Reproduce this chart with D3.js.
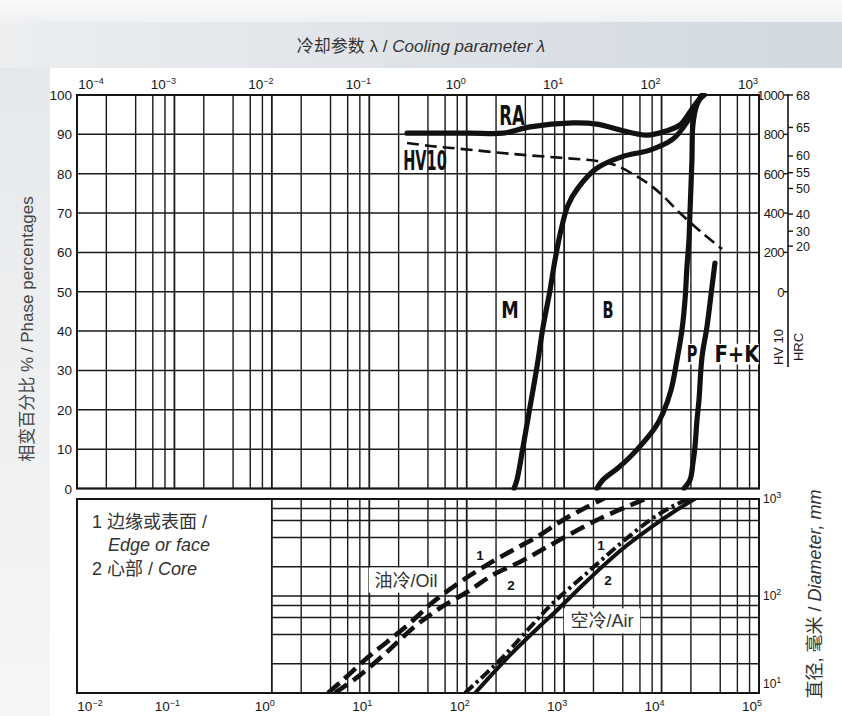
<!DOCTYPE html>
<html><head><meta charset="utf-8">
<script src="https://cdn.jsdelivr.net/npm/d3@7"></script>
<style>
html,body{margin:0;padding:0;width:842px;height:716px;overflow:hidden;background:#fff}
svg{display:block}
</style></head><body>
<svg id="c" width="842" height="716"></svg>
<script>
// ---------- DATA ----------
const topTickExps = [-4, -3, -2, -1, 0, 1, 2, 3];        // cooling parameter λ axis (top)
const botTickExps = [-2, -1, 0, 1, 2, 3, 4, 5];          // bottom axis
const gridMultiples = [1, 2, 4, 6, 8];
const pctTicks = [0, 10, 20, 30, 40, 50, 60, 70, 80, 90, 100];
const hvTicks = [0, 200, 400, 600, 800, 1000];
const hrcLabels = ["68", "65", "60", "55", "50", "40", "30", "20"];
const hrcAsHV = [1000, 835, 690, 605, 525, 395, 308, 232];
const diamTickExps = [1, 2, 3];

// top plot curves (λ, %)
const raLambda = [0.244, 1.08, 2.36, 4.46, 12.3, 21.7, 40.2, 70.8, 113.7, 154.5, 196, 236, 275];
const raPct    = [90.3, 90.3, 90.3, 91.9, 92.9, 92.6, 90.9, 89.8, 90.9, 92.4, 95.7, 98.5, 100];

const mbLambda = [3.06, 3.28, 3.78, 4.46, 5.26, 6.07, 7.16, 8.06, 9.29, 10.95, 13.9, 21.7, 40.2, 76, 131, 182, 248, 265];
const mbPct    = [0, 2.2, 10.5, 20.7, 30.9, 41.0, 50.4, 58.1, 65.7, 72.0, 76.4, 81.4, 84.4, 86.0, 88.8, 93.1, 99.2, 100];

const bpLambda = [21.7, 25.0, 35.7, 47.4, 64.5, 85.5, 103.5, 125, 144, 162, 174, 182, 191, 196, 205, 210, 231, 260];
const bpPct    = [0, 2.2, 5.2, 8.0, 11.6, 15.4, 19.2, 25.0, 32.7, 40.3, 47.9, 56.1, 63.2, 70.6, 83.6, 92.5, 97.6, 100];

const pfLambda = [170, 196, 210, 220, 231, 242, 260, 292, 329, 353];
const pfPct    = [0, 2.2, 6.5, 10.5, 17.4, 22.5, 33.4, 41.0, 51.2, 57.3];

// HV10 hardness curve (λ, HV)
const hvLambda = [0.244, 0.42, 0.916, 2.99, 9.73, 21.7, 33.2, 50.9, 76, 103.5, 154.5, 248, 417];
const hvValue  = [756, 741, 725, 700, 680, 665, 644, 598, 543, 487, 400, 309, 217];

// bottom plot curves (x, diameter mm)
const oil1X = [3.77, 5.37, 9.48, 15.2, 26.2, 45.1, 85.3, 161, 299, 565, 973, 1637, 2754];
const oil1D = [10, 13.6, 22.9, 33.6, 52.7, 86.7, 139, 209, 298, 425, 608, 807, 1049];
const oil2X = [4.45, 8.03, 15.2, 28.1, 53.2, 101, 186, 352, 667, 2173, 7603];
const oil2D = [10, 15.3, 26.5, 46.8, 75.2, 110, 165, 224, 320, 608, 1049];
const air1X = [96, 220, 479, 769, 1716, 3742, 8166, 13740, 21030];
const air1D = [10, 21.9, 51.4, 84.7, 173, 344, 637, 867, 1049];
const air2X = [122, 278, 565, 769, 1716, 3742, 8166, 13740, 23650];
const air2D = [10, 24.6, 49.1, 65.2, 143, 291, 527, 752, 1049];

// annotations
const topLabels = [
  {t: "RA",   l: 2.92,  p: 92.4},
  {t: "HV10", l: 0.373, p: 80.9},
  {t: "M",    l: 2.78,  p: 43.3},
  {t: "B",    l: 28.2,  p: 43.3},
  {t: "P",    l: 205,   p: 32.1},
  {t: "F+K",  l: 594,   p: 32.1}
];
const curveNums = [
  {t: "1", x: 137,  d: 235},
  {t: "2", x: 285,  d: 115},
  {t: "1", x: 2390, d: 298},
  {t: "2", x: 2818, d: 130}
];

// ---------- SCALES ----------
const L = 77, R = 759;
const xTop = d3.scaleLog().domain([1e-4, 1e3]).range([L, R]);
const xBot = d3.scaleLog().domain([1e-2, 1e5]).range([L, R]);
const yPct = d3.scaleLinear().domain([0, 100]).range([488.5, 95]);
const yHV  = d3.scaleLinear().domain([0, 1000]).range([yPct(50), yPct(100)]);
const yDia = d3.scaleLog().domain([10, 1000]).range([693, 499]);

const svg = d3.select("#c");
const defs = svg.append("defs");

// ---------- BACKGROUND ----------
const g1 = defs.append("linearGradient").attr("id", "band").attr("x1", 0).attr("x2", 1).attr("y1", 0).attr("y2", 0);
g1.append("stop").attr("offset", 0).attr("stop-color", "#eceef0");
g1.append("stop").attr("offset", 1).attr("stop-color", "#d1d8e0");
const g2 = defs.append("linearGradient").attr("id", "leftStrip").attr("x1", 0).attr("x2", 0).attr("y1", 0).attr("y2", 1);
g2.append("stop").attr("offset", 0).attr("stop-color", "#e6e9ec");
g2.append("stop").attr("offset", 1).attr("stop-color", "#f6f6f6");
const g3 = defs.append("linearGradient").attr("id", "topStrip").attr("x1", 0).attr("x2", 0).attr("y1", 0).attr("y2", 1);
g3.append("stop").attr("offset", 0).attr("stop-color", "#fafafa");
g3.append("stop").attr("offset", 1).attr("stop-color", "#f0f1f2");

svg.append("rect").attr("width", 842).attr("height", 716).attr("fill", "url(#band)");
svg.append("rect").attr("width", 842).attr("height", 22).attr("fill", "url(#topStrip)");
svg.append("rect").attr("x", 0).attr("y", 68).attr("width", 50).attr("height", 648).attr("fill", "url(#leftStrip)");
svg.append("rect").attr("x", 50).attr("y", 68).attr("width", 792).attr("height", 648).attr("fill", "#ffffff");

const sansFont = "'Liberation Sans', Arial, 'Noto Sans CJK SC', sans-serif";
const titleFont = "'Liberation Sans', 'Noto Sans CJK SC', sans-serif";
const ink = "#161616";

// ---------- TITLES ----------
const tt = svg.append("text").attr("x", 421).attr("y", 52).attr("text-anchor", "middle")
  .attr("font-family", titleFont).attr("font-size", 17).attr("fill", "#333");
tt.append("tspan").text("冷却参数 λ / ");
tt.append("tspan").attr("font-style", "italic").text("Cooling parameter λ");

svg.append("text").attr("transform", "translate(33,329) rotate(-90)").attr("text-anchor", "middle")
  .attr("font-family", titleFont).attr("font-size", 17).attr("fill", "#444")
  .text("相变百分比 % / Phase percentages");

const rt = svg.append("text").attr("transform", "translate(821,594) rotate(-90)").attr("text-anchor", "middle")
  .attr("font-family", titleFont).attr("font-size", 18).attr("fill", "#333");
rt.append("tspan").text("直径, 毫米 / ");
rt.append("tspan").attr("font-style", "italic").text("Diameter, mm");

// ---------- GRID helpers ----------
function gridValues(lo, hi) {
  const out = [];
  for (let e = lo; e < hi; e++) gridMultiples.forEach(m => out.push(m * Math.pow(10, e)));
  out.push(Math.pow(10, hi));
  return out;
}
const gridStroke = "#1a1a1a";
const isDecade = d => Math.abs(Math.log10(d) - Math.round(Math.log10(d))) < 1e-9;

// ---------- TOP PLOT ----------
const topG = svg.append("g");
const vTop = gridValues(-4, 3);
topG.selectAll("line.v").data(vTop).join("line")
  .attr("x1", d => xTop(d)).attr("x2", d => xTop(d))
  .attr("y1", yPct(100)).attr("y2", yPct(0))
  .attr("stroke", gridStroke).attr("stroke-width", d => isDecade(d) ? 1.8 : 1.4);
topG.selectAll("line.h").data(pctTicks).join("line")
  .attr("x1", L).attr("x2", R).attr("y1", d => yPct(d)).attr("y2", d => yPct(d))
  .attr("stroke", gridStroke).attr("stroke-width", 1.5);
topG.append("rect").attr("x", L).attr("y", yPct(100)).attr("width", R - L).attr("height", yPct(0) - yPct(100))
  .attr("fill", "none").attr("stroke", ink).attr("stroke-width", 2);

// left % labels
topG.selectAll("text.pct").data(pctTicks).join("text")
  .attr("x", 72).attr("y", d => yPct(d) + 5).attr("text-anchor", "end")
  .attr("font-family", sansFont).attr("font-size", 13.5).attr("fill", ink).text(d => d);

// top exponent labels
function expLabel(sel, e) {
  sel.append("tspan").text("10");
  sel.append("tspan").attr("dy", -5).attr("font-size", 9).text(e < 0 ? "\u2212" + (-e) : String(e));
}
topTickExps.forEach(e => {
  const x = Math.max(91, xTop(Math.pow(10, e)) - 11);
  const t = svg.append("text").attr("x", x).attr("y", 89).attr("text-anchor", "middle")
    .attr("font-family", sansFont).attr("font-size", 13.5).attr("fill", ink);
  expLabel(t, e);
});

// right hardness axes
const axX = 788;
svg.append("line").attr("x1", axX).attr("x2", axX).attr("y1", yHV(1000) - 1).attr("y2", 367)
  .attr("stroke", ink).attr("stroke-width", 1.6);
svg.selectAll("line.hvt").data(hvTicks).join("line")
  .attr("x1", axX - 4).attr("x2", axX).attr("y1", d => yHV(d)).attr("y2", d => yHV(d))
  .attr("stroke", ink).attr("stroke-width", 1.4);
svg.selectAll("text.hv").data(hvTicks).join("text")
  .attr("x", axX - 4).attr("y", d => yHV(d) + 5).attr("text-anchor", "end")
  .attr("font-family", sansFont).attr("font-size", 13).attr("fill", ink).attr("letter-spacing", -0.5).text(d => d);
const hrcData = d3.zip(hrcLabels, hrcAsHV);
svg.selectAll("line.hrct").data(hrcData).join("line")
  .attr("x1", axX).attr("x2", axX + 5).attr("y1", d => yHV(d[1])).attr("y2", d => yHV(d[1]))
  .attr("stroke", ink).attr("stroke-width", 1.4);
svg.selectAll("text.hrc").data(hrcData).join("text")
  .attr("x", axX + 8).attr("y", d => yHV(d[1]) + 4.5).attr("text-anchor", "start")
  .attr("font-family", sansFont).attr("font-size", 12.5).attr("fill", ink).text(d => d[0]);
svg.append("text").attr("transform", `translate(${axX - 5},347) rotate(-90)`).attr("text-anchor", "middle")
  .attr("font-family", sansFont).attr("font-size", 13).attr("fill", ink).text("HV 10");
svg.append("text").attr("transform", `translate(${axX + 15},347) rotate(-90)`).attr("text-anchor", "middle")
  .attr("font-family", sansFont).attr("font-size", 13).attr("fill", ink).text("HRC");

// clip for top curves
defs.append("clipPath").attr("id", "clipTop").append("rect")
  .attr("x", L).attr("y", yPct(100) - 2).attr("width", R - L).attr("height", yPct(0) - yPct(100) + 4);
const topCurves = topG.append("g").attr("clip-path", "url(#clipTop)");

const lineTop = d3.line().x(d => xTop(d[0])).y(d => yPct(d[1])).curve(d3.curveCatmullRom.alpha(0.5));
const lineHV = d3.line().x(d => xTop(d[0])).y(d => yHV(d[1])).curve(d3.curveCatmullRom.alpha(0.5));

const condFont = "'Liberation Sans Narrow', 'DejaVu Sans Condensed', 'Liberation Sans', sans-serif";

[[raLambda, raPct], [mbLambda, mbPct], [bpLambda, bpPct], [pfLambda, pfPct]].forEach(([a, b]) => {
  topCurves.append("path").attr("d", lineTop(d3.zip(a, b))).attr("fill", "none")
    .attr("stroke", "#111").attr("stroke-width", 5.2).attr("stroke-linecap", "round").attr("stroke-linejoin", "round");
});
topCurves.append("path").attr("d", lineHV(d3.zip(hvLambda, hvValue))).attr("fill", "none")
  .attr("stroke", "#111").attr("stroke-width", 2.6).attr("stroke-dasharray", "12,6");

// top labels
const labelStyle = {RA: [27, 0.68], HV10: [26, 0.62], M: [23, 0.85], B: [23, 0.7], P: [23, 0.7], "F+K": [23, 0.95]};
topLabels.forEach(d => {
  const [fs, sx] = labelStyle[d.t];
  const g = topG.append("g").attr("transform", `translate(${xTop(d.l)},${yPct(d.p)}) scale(${sx},1)`);
  if (d.t === "P" || d.t === "F+K") {
    const w = d.t === "P" ? 16 : 46;
    g.append("rect").attr("x", -w / 2).attr("y", -fs * 0.8).attr("width", w).attr("height", fs * 0.9).attr("fill", "#fff");
  }
  g.append("text").attr("text-anchor", "middle").attr("font-family", condFont).attr("font-weight", "bold")
    .attr("font-size", fs).attr("fill", "#111").text(d.t);
});

// ---------- BOTTOM PLOT ----------
const botG = svg.append("g");
const vBot = gridValues(0, 5);
botG.selectAll("line.v").data(vBot).join("line")
  .attr("x1", d => xBot(d)).attr("x2", d => xBot(d))
  .attr("y1", yDia(1000)).attr("y2", yDia(10))
  .attr("stroke", gridStroke).attr("stroke-width", d => isDecade(d) ? 1.8 : 1.4);
const hBot = gridValues(1, 3);
botG.selectAll("line.h").data(hBot).join("line")
  .attr("x1", xBot(1)).attr("x2", R).attr("y1", d => yDia(d)).attr("y2", d => yDia(d))
  .attr("stroke", gridStroke).attr("stroke-width", 1.5);
botG.append("rect").attr("x", L).attr("y", yDia(1000)).attr("width", R - L).attr("height", yDia(10) - yDia(1000))
  .attr("fill", "none").attr("stroke", ink).attr("stroke-width", 2);

defs.append("clipPath").attr("id", "clipBot").append("rect")
  .attr("x", L).attr("y", yDia(1000)).attr("width", R - L).attr("height", yDia(10) - yDia(1000));
const botCurves = botG.append("g").attr("clip-path", "url(#clipBot)");
const lineBot = d3.line().x(d => xBot(d[0])).y(d => yDia(d[1])).curve(d3.curveCatmullRom.alpha(0.5));

botCurves.append("path").attr("d", lineBot(d3.zip(oil1X, oil1D))).attr("fill", "none")
  .attr("stroke", "#111").attr("stroke-width", 4.6).attr("stroke-dasharray", "15,7");
botCurves.append("path").attr("d", lineBot(d3.zip(oil2X, oil2D))).attr("fill", "none")
  .attr("stroke", "#111").attr("stroke-width", 4.6).attr("stroke-dasharray", "15,7");
botCurves.append("path").attr("d", lineBot(d3.zip(air1X, air1D))).attr("fill", "none")
  .attr("stroke", "#111").attr("stroke-width", 4).attr("stroke-dasharray", "11,4,3,4");
botCurves.append("path").attr("d", lineBot(d3.zip(air2X, air2D))).attr("fill", "none")
  .attr("stroke", "#111").attr("stroke-width", 4);

// curve numbers
botG.selectAll("text.num").data(curveNums).join("text")
  .attr("x", d => xBot(d.x)).attr("y", d => yDia(d.d)).attr("text-anchor", "middle")
  .attr("font-family", sansFont).attr("font-weight", "bold").attr("font-size", 13.5).attr("fill", "#111").text(d => d.t);

// boxed medium labels
function boxLabel(x, y, txt, w) {
  botG.append("rect").attr("x", x - w / 2).attr("y", y - 19).attr("width", w).attr("height", 25).attr("fill", "#fff");
  botG.append("text").attr("x", x).attr("y", y).attr("text-anchor", "middle")
    .attr("font-family", titleFont).attr("font-size", 18).attr("fill", "#333").text(txt);
}
boxLabel(xBot(23.8), yDia(125), "油冷/Oil", 74);
boxLabel(xBot(2445), yDia(47.5), "空冷/Air", 76);

// legend
const lg = botG.append("g").attr("font-family", titleFont).attr("font-size", 18).attr("fill", "#333");
lg.append("text").attr("x", 92).attr("y", 528).text("1 边缘或表面 /");
lg.append("text").attr("x", 108).attr("y", 551).attr("font-style", "italic").text("Edge or face");
const l2 = lg.append("text").attr("x", 92).attr("y", 575);
l2.append("tspan").text("2 心部 / ");
l2.append("tspan").attr("font-style", "italic").text("Core");

// bottom exponent labels
botTickExps.forEach(e => {
  const x = Math.max(90, xBot(Math.pow(10, e)) - 7);
  const t = svg.append("text").attr("x", x).attr("y", 711).attr("text-anchor", "middle")
    .attr("font-family", sansFont).attr("font-size", 13.5).attr("fill", ink);
  expLabel(t, e);
});
// right diameter labels
diamTickExps.forEach(e => {
  const y = Math.min(yDia(Math.pow(10, e)) + 4, 688);
  const t = svg.append("text").attr("x", 763).attr("y", y).attr("text-anchor", "start")
    .attr("font-family", sansFont).attr("font-size", 12).attr("fill", ink);
  expLabel(t, e);
});
</script>
</body></html>
